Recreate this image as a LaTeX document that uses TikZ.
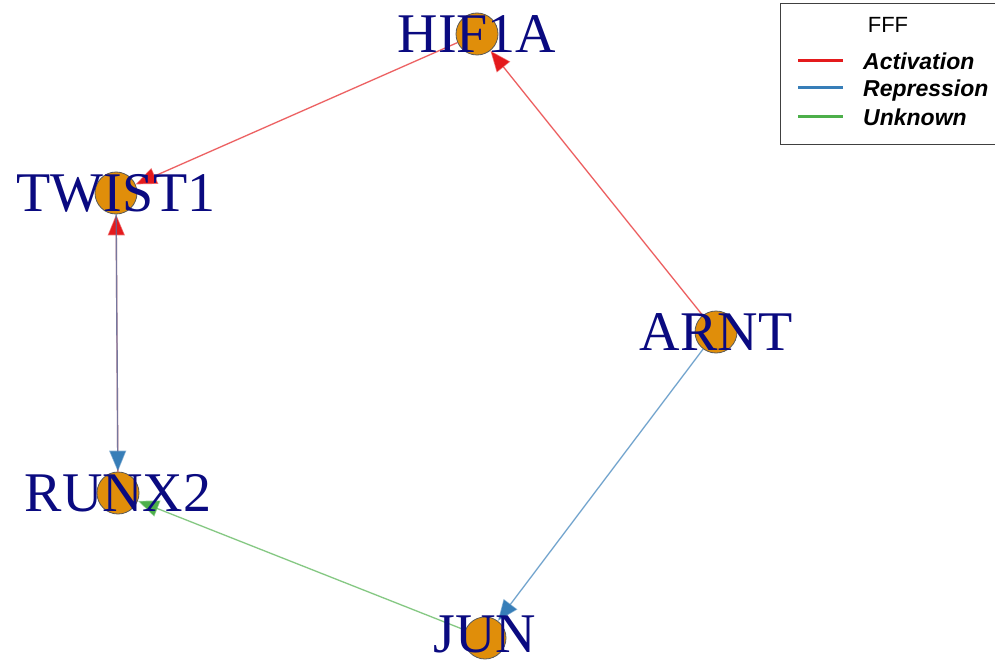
\documentclass[tikz,border=0pt]{standalone}
\usepackage{fontspec}
\setmainfont{Liberation Serif}
\setsansfont{Liberation Sans}
\usetikzlibrary{arrows.meta}
\definecolor{act}{RGB}{228,26,28}
\definecolor{rep}{RGB}{55,126,184}
\definecolor{unk}{RGB}{77,175,74}
\definecolor{genefill}{RGB}{224,142,10}
\definecolor{genetext}{RGB}{10,10,128}
\tikzset{
  gene/.style={circle,draw=black!65,fill=genefill,minimum size=42pt,inner sep=0pt,line width=0.8pt},
  lbl/.style={text=genetext,font=\fontsize{56}{56}\selectfont,inner sep=0pt,text depth=0pt},
  edge/.style={line width=1.4pt,draw opacity=0.6,-{Triangle[length=21pt,width=17pt]}},
  actedge/.style={edge,draw=act,fill=act},
  repedge/.style={edge,draw=rep,fill=rep},
  unkedge/.style={edge,draw=unk,fill=unk},
  legtext/.style={anchor=base west,inner sep=0pt,font=\sffamily\bfseries\itshape\fontsize{23}{23}\selectfont}
}
\begin{document}
\begin{tikzpicture}[x=1pt,y=-1pt]
                    \useasboundingbox (0,0) rectangle (995,666);
                    \clip (0,0) rectangle (995,666);
                    %NODE
                    \node[gene] (HIF) at (477,34){};
                    \node[gene] (TWI) at (116,193){};
                    \node[gene] (ARN) at (716,332){};
                    \node[gene] (RUN) at (118,493){};
                    \node[gene] (JUN) at (485,638){};

                    %EDGE
                    \draw[actedge] (HIF) -- (TWI);
                    \draw[actedge] (ARN) -- (HIF);
                    \draw[actedge] (RUN) -- (TWI);
                    \draw[repedge] (TWI) -- (RUN);
                    \draw[repedge] (ARN) -- (JUN);
                    \draw[unkedge] (JUN) -- (RUN);

                    %LABEL
                    \node[lbl] at (HIF) {HIF1A};
                    \node[lbl] at (TWI) {TWIST1};
                    \node[lbl] at (ARN) {ARNT};
                    \node[lbl] at (RUN) {RUNX2};
                    \node[lbl] at ([yshift=4pt]JUN.center) {JUN};

                    %LEGEND
                    \draw[black!75,line width=1pt] (780,4) rectangle (1005,144);
                    \node[anchor=base,inner sep=0pt,font=\sffamily\fontsize{22}{22}\selectfont] (legT) at (888,33) {FFF};
                    \draw[act,line width=3pt] (798,61) -- (843,61);
                    \draw[rep,line width=3pt] (798,88) -- (843,88);
                    \draw[unk,line width=3pt] (798,117) -- (843,117);
                    \node[legtext] (legA) at (863,70) {Activation};
                    \node[legtext] (legR) at (863,97) {Repression};
                    \node[legtext] (legU) at (863,125) {Unknown};
                \end{tikzpicture}
\end{document}
